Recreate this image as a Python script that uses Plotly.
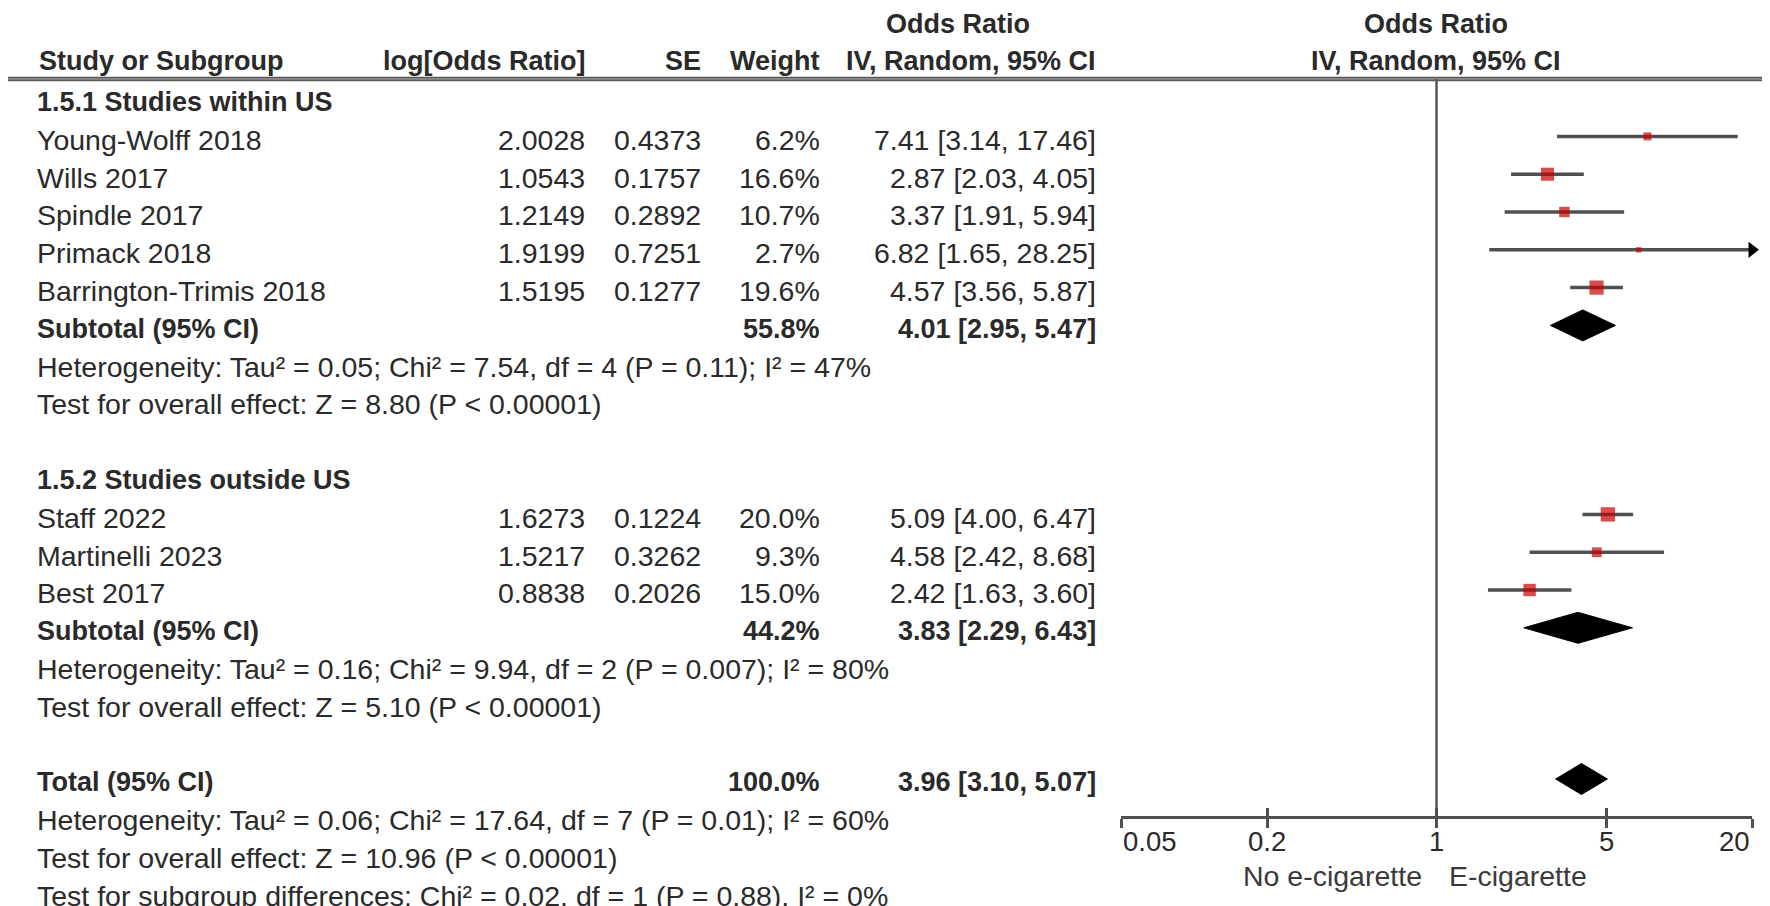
import numpy as np
import plotly.graph_objects as go

# ---------------- data ----------------
studies = ["Young-Wolff 2018", "Wills 2017", "Spindle 2017", "Primack 2018",
           "Barrington-Trimis 2018", "Staff 2022", "Martinelli 2023", "Best 2017"]
study_group = [0, 0, 0, 0, 0, 1, 1, 1]
log_or = [2.0028, 1.0543, 1.2149, 1.9199, 1.5195, 1.6273, 1.5217, 0.8838]
se = [0.4373, 0.1757, 0.2892, 0.7251, 0.1277, 0.1224, 0.3262, 0.2026]
weight = [6.2, 16.6, 10.7, 2.7, 19.6, 20.0, 9.3, 15.0]
odds = [7.41, 2.87, 3.37, 6.82, 4.57, 5.09, 4.58, 2.42]
ci_lo = [3.14, 2.03, 1.91, 1.65, 3.56, 4.00, 2.42, 1.63]
ci_hi = [17.46, 4.05, 5.94, 28.25, 5.87, 6.47, 8.68, 3.60]

group_titles = ["1.5.1 Studies within US", "1.5.2 Studies outside US"]
summary_labels = ["Subtotal (95% CI)", "Subtotal (95% CI)", "Total (95% CI)"]
summary_weight = [55.8, 44.2, 100.0]
summary_or = [4.01, 3.83, 3.96]
summary_lo = [2.95, 2.29, 3.10]
summary_hi = [5.47, 6.43, 5.07]
summary_stats = [
    ["Heterogeneity: Tau² = 0.05; Chi² = 7.54, df = 4 (P = 0.11); I² = 47%",
     "Test for overall effect: Z = 8.80 (P < 0.00001)"],
    ["Heterogeneity: Tau² = 0.16; Chi² = 9.94, df = 2 (P = 0.007); I² = 80%",
     "Test for overall effect: Z = 5.10 (P < 0.00001)"],
    ["Heterogeneity: Tau² = 0.06; Chi² = 17.64, df = 7 (P = 0.01); I² = 60%",
     "Test for overall effect: Z = 10.96 (P < 0.00001)",
     "Test for subgroup differences: Chi² = 0.02, df = 1 (P = 0.88), I² = 0%"],
]
col_headers = ["Study or Subgroup", "log[Odds Ratio]", "SE", "Weight", "IV, Random, 95% CI"]
effect_title = ["Odds Ratio", "IV, Random, 95% CI"]
x_ticks = [0.05, 0.2, 1, 5, 20]
x_tick_labels = ["0.05", "0.2", "1", "5", "20"]
favours = ["No e-cigarette", "E-cigarette"]

# ---------------- layout constants ----------------
W, H = 1770, 906
ROW0_PX, PITCH = 94.0, 37.8          # pixel centre of first row, row pitch


def px2row(p):
    return (p - ROW0_PX) / PITCH


FONT = "Liberation Sans, Arial, sans-serif"
FS_REG, FS_BOLD, FS_TICK = 28.5, 27, 27.5
TXT = "#2a2a2a"
GRAY = "#505050"
RED = "#c80000"
COL_NAME, COL_LOGOR, COL_SE, COL_W, COL_CI = 27, 579, 695, 814, 1090
AX_LEFT, AX_RIGHT, AX_Y = 1113, 1744, 809
HEADER_LINE_PX = 71
MARK_DY = -0.09
DIAMOND_H = 0.41

# ---------------- build row structure ----------------
rows = []   # (kind, payload, row)
r = 0
for g in range(2):
    rows.append(("title", g, r)); r += 1
    for i, sg in enumerate(study_group):
        if sg == g:
            rows.append(("study", i, r)); r += 1
    rows.append(("summary", g, r)); r += 1
    for s in summary_stats[g]:
        rows.append(("stat", s, r)); r += 1
    r += 1
rows.append(("summary", 2, r)); r += 1
for s in summary_stats[2]:
    rows.append(("stat", s, r)); r += 1

fig = go.Figure()


def txt(xpx, row, s, anchor="left", bold=False):
    fig.add_annotation(x=xpx / W, xref="paper", y=row, yref="y",
                       text=f"<b>{s}</b>" if bold else s, showarrow=False,
                       xanchor=anchor, yanchor="middle",
                       font=dict(family=FONT, size=FS_BOLD if bold else FS_REG, color=TXT))


# headers
hdr_row = px2row(53)
top_row = px2row(16)
txt(COL_NAME + 2, hdr_row, col_headers[0], bold=True)
txt(COL_LOGOR, hdr_row, col_headers[1], "right", True)
txt(COL_SE, hdr_row, col_headers[2], "right", True)
txt(COL_W, hdr_row, col_headers[3], "right", True)
txt(COL_CI, hdr_row, col_headers[4], "right", True)
txt(950, top_row, effect_title[0], "center", True)
txt(1428, top_row, effect_title[0], "center", True)
txt(1428, hdr_row, effect_title[1], "center", True)

ci_x, ci_y = [], []
sq_x, sq_y, sq_s = [], [], []
arrow_x, arrow_y = [], []
xmax = x_ticks[-1]

for kind, p, row in rows:
    if kind == "title":
        txt(COL_NAME, row, group_titles[p], bold=True)
    elif kind == "study":
        i = p
        txt(COL_NAME, row, studies[i])
        txt(COL_LOGOR, row, f"{log_or[i]:.4f}", "right")
        txt(COL_SE, row, f"{se[i]:.4f}", "right")
        txt(COL_W, row, f"{weight[i]:.1f}%", "right")
        txt(COL_CI, row, f"{odds[i]:.2f} [{ci_lo[i]:.2f}, {ci_hi[i]:.2f}]", "right")
        y = row + MARK_DY
        ci_x += [ci_lo[i], min(ci_hi[i], xmax), None]
        ci_y += [y, y, None]
        sq_x.append(odds[i]); sq_y.append(y); sq_s.append(3.2 * np.sqrt(weight[i]))
        if ci_hi[i] > xmax:
            arrow_x.append(xmax); arrow_y.append(y)
    elif kind == "summary":
        k = p
        txt(COL_NAME, row, summary_labels[k], bold=True)
        txt(COL_W, row, f"{summary_weight[k]:.1f}%", "right", True)
        txt(COL_CI, row, f"{summary_or[k]:.2f} [{summary_lo[k]:.2f}, {summary_hi[k]:.2f}]",
            "right", True)
        y = row + MARK_DY
        fig.add_trace(go.Scatter(
            x=[summary_lo[k], summary_or[k], summary_hi[k], summary_or[k], summary_lo[k]],
            y=[y, y - DIAMOND_H, y, y + DIAMOND_H, y],
            mode="lines", fill="toself", fillcolor="black",
            line=dict(color="black", width=1), hoverinfo="skip", showlegend=False))
    else:
        txt(COL_NAME, row, p)

# line of no effect
fig.add_trace(go.Scatter(x=[1, 1], y=[px2row(HEADER_LINE_PX), px2row(AX_Y)], mode="lines",
                         line=dict(color="#555555", width=2.5), hoverinfo="skip",
                         showlegend=False))
# CIs
fig.add_trace(go.Scatter(x=ci_x, y=ci_y, mode="lines", line=dict(color=GRAY, width=3.5),
                         hoverinfo="skip", showlegend=False))
# squares
fig.add_trace(go.Scatter(x=sq_x, y=sq_y, mode="markers",
                         marker=dict(symbol="square", size=sq_s, color=RED,
                                     line=dict(width=0)),
                         showlegend=False))
# arrows for CIs beyond the axis
fig.add_trace(go.Scatter(x=arrow_x, y=arrow_y, mode="markers", cliponaxis=False,
                         marker=dict(symbol="triangle-right", size=14, color="black"),
                         showlegend=False))
# dummy trace for second (inside-tick) axis
fig.add_trace(go.Scatter(x=[1], y=[-50], xaxis="x2", mode="markers",
                         marker=dict(opacity=0), showlegend=False, hoverinfo="skip"))

# header rule (double grey rule)
for dy, wdt, col in [(-1.2, 2, "#5a5a5a"), (1.2, 2, "#5a5a5a")]:
    yy = px2row(HEADER_LINE_PX + dy)
    fig.add_shape(type="line", xref="paper", x0=0, x1=1, yref="y", y0=yy, y1=yy,
                  line=dict(color=col, width=wdt))

# tick labels + favours labels
lab_y = 1 - 833 / H
for t, lab in zip(x_ticks, x_tick_labels):
    anchor = "left" if t == x_ticks[0] else ("right" if t == x_ticks[-1] else "center")
    fig.add_annotation(x=np.log10(t), xref="x", y=lab_y, yref="paper", text=lab,
                       showarrow=False, xanchor=anchor, yanchor="middle",
                       font=dict(family=FONT, size=FS_TICK, color=TXT))
fav_y = 1 - 868 / H
fig.add_annotation(x=0, xref="x", y=fav_y, yref="paper", text=favours[0], showarrow=False,
                   xanchor="right", xshift=-13, yanchor="middle",
                   font=dict(family=FONT, size=FS_REG, color="#3a3a3a"))
fig.add_annotation(x=0, xref="x", y=fav_y, yref="paper", text=favours[1], showarrow=False,
                   xanchor="left", xshift=10, yanchor="middle",
                   font=dict(family=FONT, size=FS_REG, color="#3a3a3a"))

xr = [np.log10(x_ticks[0]), np.log10(x_ticks[-1])]
ax_common = dict(type="log", range=xr, domain=[AX_LEFT / W, AX_RIGHT / W],
                 anchor="free", position=1 - AX_Y / H, showgrid=False, zeroline=False,
                 tickvals=x_ticks, showticklabels=False, tickcolor="#505050",
                 tickwidth=2.5, ticklen=9, fixedrange=True)
fig.update_layout(
    width=W, height=H, autosize=False,
    margin=dict(l=0, r=0, t=0, b=0),
    paper_bgcolor="white", plot_bgcolor="white",
    xaxis=dict(**ax_common, ticks="outside", showline=True, linecolor="#505050",
               linewidth=3),
    xaxis2=dict(**ax_common, ticks="inside", showline=False, overlaying="x"),
    yaxis=dict(range=[px2row(H), px2row(0)], domain=[0, 1], visible=False,
               fixedrange=True),
    showlegend=False,
)

fig.write_html("out.html")
